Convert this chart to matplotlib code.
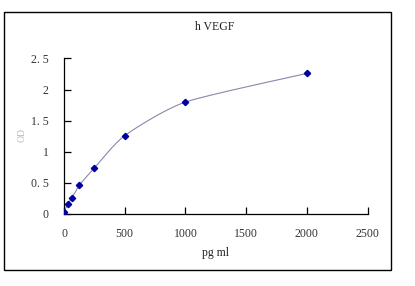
import numpy as np
import matplotlib
matplotlib.use("Agg")
import matplotlib.pyplot as plt
from matplotlib.patches import Rectangle

conc = [0, 31.25, 62.5, 125, 250, 500, 1000, 2000]
od = [0.04, 0.16, 0.25, 0.46, 0.74, 1.26, 1.80, 2.26]
xticks = [0, 500, 1000, 1500, 2000, 2500]
yticks = [0, 0.5, 1, 1.5, 2, 2.5]
ytick_labels = ["0", "0. 5", "1", "1. 5", "2", "2. 5"]
title = "h VEGF"
xlabel = "pg ml"
ylabel = "OD"

plt.rcParams['font.family'] = ['Liberation Serif', 'DejaVu Serif']

fig = plt.figure(figsize=(4.15, 2.86), dpi=100)
fig.patch.set_facecolor('white')
fig.add_artist(Rectangle((4/415, 1-270/286), (391-4)/415, (270-12)/286,
                         transform=fig.transFigure, fill=False, edgecolor='black', lw=1.0))

ax = fig.add_axes([64/415, 1-214/286, (367.5-64)/415, (214-58.5)/286])

# smooth curve through the points (drawing only)
x = np.array(conc, float); y = np.array(od, float)
px, py = [], []
for i in range(len(x)-1):
    p0 = (x[i-1], y[i-1]) if i > 0 else (x[i], y[i])
    p1 = (x[i], y[i]); p2 = (x[i+1], y[i+1])
    p3 = (x[i+2], y[i+2]) if i+2 < len(x) else (x[i+1], y[i+1])
    t = np.linspace(0, 1, 30)
    for k in range(2):
        a0, a1, a2, a3 = p0[k], p1[k], p2[k], p3[k]
        m1 = (a2 - a0) / 2
        m2 = (a3 - a1) / 2
        h00 = 2*t**3 - 3*t**2 + 1; h10 = t**3 - 2*t**2 + t
        h01 = -2*t**3 + 3*t**2; h11 = t**3 - t**2
        v = h00*a1 + h10*m1*0.66 + h01*a2 + h11*m2*0.66
        (px if k == 0 else py).extend(v)
ax.plot(px, py, color='#8888aa', lw=0.8, zorder=2)
ax.plot(conc, od, linestyle='none', marker='D', ms=3.2, color='#0000a0', zorder=3)

ax.set_xlim(0, 2500)
ax.set_ylim(0, 2.5)
ax.set_xticks(xticks)
ax.set_yticks(yticks)
ax.set_yticklabels(ytick_labels)
for s in ['top', 'right']:
    ax.spines[s].set_visible(False)
for s in ['left', 'bottom']:
    ax.spines[s].set_linewidth(0.9)
ax.tick_params(direction='in', length=5, width=0.9, labelsize=8.5, colors='black', labelcolor='#333333')
ax.tick_params(axis='x', pad=10)
ax.tick_params(axis='y', pad=11)

fig.text(215/415, 1-27/286, title, ha='center', va='center', fontsize=8.5, color='#222222')
fig.text(215/415, 1-253/286, xlabel, ha='center', va='center', fontsize=8.5, color='#222222')
fig.text(22/415, 1-135/286, ylabel, ha='center', va='center', fontsize=7, color='#bbbbbb', rotation=90)

fig.savefig('out.png', dpi=100, facecolor='white')
